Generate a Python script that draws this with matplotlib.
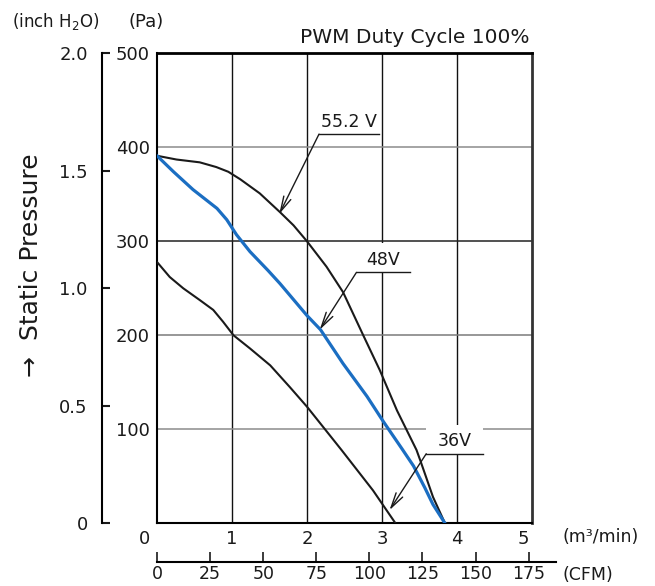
import matplotlib
matplotlib.use("Agg")
import matplotlib.pyplot as plt
from matplotlib.patches import Rectangle
from matplotlib.transforms import ScaledTranslation

# ---- data ----
flow_552 = [0, 0.26, 0.57, 0.79, 0.95, 1.11, 1.37, 1.64, 1.82, 2.0, 2.26, 2.48, 2.75, 2.97,
            3.2, 3.33, 3.46, 3.51, 3.68, 3.84]
pres_552 = [391, 387, 384, 379, 374, 366, 351, 331, 317, 300, 273, 246, 200, 163,
            120, 99, 78, 67, 28, 0]

flow_48 = [0, 0.22, 0.48, 0.8, 0.93, 1.06, 1.24, 1.48, 1.64, 2.0, 2.18, 2.48, 2.8, 3.02,
           3.26, 3.42, 3.57, 3.68, 3.84]
pres_48 = [391, 374, 355, 335, 323, 307, 289, 269, 255, 221, 206, 170, 135, 108,
           80, 61, 38, 20, 0]

flow_36 = [0, 0.17, 0.35, 0.57, 0.75, 0.88, 1.02, 1.24, 1.51, 1.77, 2.0, 2.46, 2.88, 3.18]
pres_36 = [278, 262, 250, 237.5, 227, 214.5, 200, 186, 168, 145, 124, 78, 35, 0]

series_labels = ["55.2 V", "48V", "36V"]

x_ticks = [0, 1, 2, 3, 4, 5]
pa_ticks = [100, 200, 300, 400, 500]
inch_ticks = [0, 0.5, 1.0, 1.5, 2.0]
inch_labels = ["0", "0.5", "1.0", "1.5", "2.0"]
cfm_ticks = [0, 25, 50, 75, 100, 125, 150, 175]
M3MIN_TO_CFM = 35.3147

# annotation layout: target point, leader start x, leader end x, leader y
ann_target = [(1.63, 329), (2.17, 206), (3.10, 14)]
ann_leader = [(2.16, 2.96, 414), (2.66, 3.37, 267), (3.59, 4.34, 74)]

# ---- figure ----
W, H = 655, 586
fig = plt.figure(figsize=(W / 100, H / 100), dpi=100)
plt.rcParams['font.family'] = ['DejaVu Sans']

L, R, T, B = 157, 532, 53.3, 523.3
ax = fig.add_axes([L / W, (H - B) / H, (R - L) / W, (B - T) / H])
ax.set_xlim(0, 5)
ax.set_ylim(0, 500)

# grid
for xv in x_ticks[1:-1]:
    ax.axvline(xv, color='#111111', lw=1.0, zorder=1)
grid_colors = {100: '#8c8c8c', 200: '#7a7a7a', 300: '#222222', 400: '#8c8c8c'}
for yv in pa_ticks[:-1]:
    ax.axhline(yv, color=grid_colors[yv], lw=1.1, zorder=1)

# curves
ax.plot(flow_552, pres_552, color='#1a1a1a', lw=1.5, zorder=3, solid_capstyle='round', solid_joinstyle='round')
ax.plot(flow_36, pres_36, color='#1a1a1a', lw=1.5, zorder=3, solid_capstyle='round', solid_joinstyle='round')
ax.plot(flow_48, pres_48, color='#1b6ec2', lw=2.3, zorder=3.5, solid_capstyle='round', solid_joinstyle='round')

# annotations
for lab, tgt, (x0, x1, yl) in zip(series_labels, ann_target, ann_leader):
    ax.add_patch(Rectangle((x0, yl), x1 - x0, 31, facecolor='white', edgecolor='none', zorder=2))
    ax.plot([x0, x1], [yl, yl], color='#1a1a1a', lw=1.0, zorder=4)
    ax.annotate('', xy=tgt, xytext=(x0, yl),
                arrowprops=dict(arrowstyle='->,head_length=1.1,head_width=0.28',
                                color='#1a1a1a', lw=1.0, shrinkA=0, shrinkB=0),
                zorder=4)
    ax.annotate(lab, xy=((x0 + x1) / 2, yl), xytext=(0, 2.5), textcoords='offset points',
                ha='center', va='bottom', fontsize=12.5, color='#1a1a1a', zorder=5)

# spines
ax.spines['top'].set_linewidth(2.0)
ax.spines['left'].set_linewidth(1.5)
ax.spines['right'].set_linewidth(2.0)
ax.spines['right'].set_color('#333333')
ax.spines['bottom'].set_linewidth(1.5)

ax.set_xticks(x_ticks)
ax.set_xticklabels([str(v) for v in x_ticks])
ax.set_yticks(pa_ticks)
ax.set_yticklabels([str(v) for v in pa_ticks])
ax.tick_params(axis='x', length=0, pad=4.5, labelsize=13, colors='#1a1a1a')
ax.tick_params(axis='y', length=0, pad=5, labelsize=13, colors='#1a1a1a')
xl = ax.get_xticklabels()
shift_px = {0: -13, len(x_ticks) - 1: -8.5}
for i, lbl in enumerate(xl):
    if i in shift_px:
        lbl.set_transform(lbl.get_transform() + ScaledTranslation(shift_px[i] / 100, 0, fig.dpi_scale_trans))

# inch H2O axis
ax_in = fig.add_axes([101.7 / W, (H - B) / H, 0.0001, (B - T) / H])
ax_in.set_ylim(0, 2.0)
ax_in.patch.set_visible(False)
for s in ['top', 'right', 'bottom']:
    ax_in.spines[s].set_visible(False)
ax_in.spines['left'].set_linewidth(1.5)
ax_in.set_xticks([])
ax_in.set_yticks(inch_ticks)
ax_in.set_yticklabels(inch_labels)
ax_in.tick_params(axis='y', direction='in', length=6, width=1.5, pad=10, labelsize=13, colors='#1a1a1a')

# CFM axis
cfm_y = 562
cfm_right = 556
ax_cfm = fig.add_axes([L / W, (H - cfm_y) / H, (cfm_right - L) / W, 0.0001])
ax_cfm.set_xlim(0, (cfm_right - L) / (R - L) * 5 * M3MIN_TO_CFM)
ax_cfm.patch.set_visible(False)
for s in ['top', 'right', 'left']:
    ax_cfm.spines[s].set_visible(False)
ax_cfm.spines['bottom'].set_linewidth(1.5)
ax_cfm.set_yticks([])
ax_cfm.set_xticks(cfm_ticks)
ax_cfm.set_xticklabels([str(v) for v in cfm_ticks])
ax_cfm.tick_params(axis='x', direction='in', length=7.5, width=1.2, pad=2, labelsize=12.5, colors='#1a1a1a')

# texts
fig.text(530 / W, (H - 43) / H, 'PWM Duty Cycle 100%', ha='right', va='baseline', fontsize=14.5, color='#1a1a1a')
fig.text(12 / W, (H - 27) / H, '(inch H$_2$O)', ha='left', va='baseline', fontsize=12, color='#1a1a1a')
fig.text(128 / W, (H - 27) / H, '(Pa)', ha='left', va='baseline', fontsize=13, color='#1a1a1a')
fig.text(563 / W, (H - 537) / H, '(m\u00b3/min)', ha='left', va='center', fontsize=12.5, color='#1a1a1a')
fig.text(563 / W, (H - 575) / H, '(CFM)', ha='left', va='center', fontsize=12.5, color='#1a1a1a')
fig.text(31 / W, (H - 265) / H, '\u2192  Static Pressure', rotation=90, ha='center', va='center',
         fontsize=18, color='#1a1a1a')

fig.savefig('out.png', dpi=100)
